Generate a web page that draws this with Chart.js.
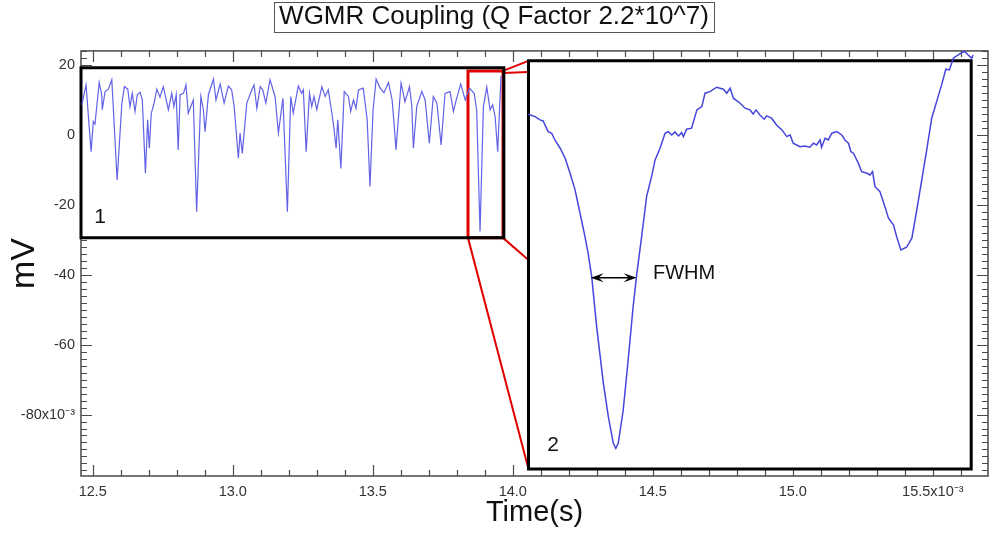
<!DOCTYPE html>
<html><head><meta charset="utf-8">
<script src="https://cdn.jsdelivr.net/npm/chart.js@4.4.1/dist/chart.umd.min.js"></script>
<style>html,body{margin:0;padding:0;background:#fff}canvas{display:block}</style>
</head><body>
<canvas id="c" width="989" height="535"></canvas>
<script>
// ---------------- data ----------------
const titleText = 'WGMR Coupling (Q Factor 2.2*10^7)';
const xTickValues = [12.5, 13.0, 13.5, 14.0, 14.5, 15.0, 15.5];
const xTickLabels = ['12.5', '13.0', '13.5', '14.0', '14.5', '15.0', '15.5x10\u207B\u00B3'];
const yTickValues = [20, 0, -20, -40, -60, -80];
const yTickLabels = ['20', '0', '-20', '-40', '-60', '-80x10\u207B\u00B3'];
const timeRange = [12.458, 15.697];   // ms (main axes)
const mvRange = [-97.6, 24.15];       // mV (main axes)
const X_MINOR = 0.1, Y_MINOR = 2;

// inset 1 : full trace (ms, mV)
const trace1Time = [12.461, 12.476, 12.494, 12.502, 12.508, 12.523, 12.532, 12.534, 12.544, 12.556,
  12.568, 12.587, 12.604, 12.613, 12.625, 12.633, 12.641, 12.651, 12.659, 12.669,
  12.677, 12.688, 12.696, 12.702, 12.709, 12.719, 12.729, 12.740, 12.752, 12.770,
  12.782, 12.790, 12.798, 12.805, 12.812, 12.824, 12.833, 12.841, 12.859, 12.871,
  12.886, 12.895, 12.901, 12.913, 12.931, 12.940, 12.955, 12.969, 12.984, 12.996,
  13.005, 13.020, 13.026, 13.034, 13.050, 13.068, 13.076, 13.086, 13.098, 13.107,
  13.118, 13.133, 13.151, 13.163, 13.179, 13.195, 13.207, 13.216, 13.234, 13.246,
  13.252, 13.262, 13.274, 13.282, 13.290, 13.300, 13.318, 13.330, 13.341, 13.354,
  13.362, 13.369, 13.375, 13.386, 13.398, 13.413, 13.421, 13.431, 13.440, 13.449,
  13.466, 13.480, 13.490, 13.501, 13.512, 13.526, 13.540, 13.556, 13.569, 13.576,
  13.583, 13.601, 13.615, 13.631, 13.639, 13.645, 13.657, 13.675, 13.687, 13.702,
  13.716, 13.729, 13.744, 13.758, 13.776, 13.788, 13.798, 13.814, 13.830, 13.845,
  13.862, 13.871, 13.883, 13.895, 13.907, 13.919, 13.928, 13.937, 13.946, 13.958];
const trace1Mv = [8.7, 14.4, -4.7, 3.9, 3.2, 15.1, 11.6, 7.3, 12.5, 13.2,
  15.9, -12.8, 9.2, 13.9, 13.2, 8.2, 12.0, 6.8, 11.6, 12.3,
  10.1, -10.9, 4.4, -3.7, 6.3, 9.2, 13.2, 10.9, 13.9, 7.3,
  12.0, 8.2, 11.6, -4.2, 11.6, 12.0, 14.4, 6.3, 10.1, -21.9,
  11.1, 7.3, 1.0, 11.6, 16.1, 10.1, 14.7, 9.2, 14.1, 13.0,
  8.2, -6.6, 0.6, -5.2, 9.2, 13.0, 14.4, 7.7, 13.9, 13.0,
  9.2, 15.9, 11.1, 0.6, 10.6, -21.9, 11.1, 6.3, 14.1, 12.0,
  13.0, -4.7, 12.0, 8.2, 11.1, 7.3, 13.9, 11.1, 13.0, 6.3,
  1.5, -3.7, 4.4, -9.5, 12.5, 11.1, 6.8, 10.1, 7.7, 13.0,
  13.5, 4.4, -14.7, 7.3, 16.1, 13.5, 12.2, 15.1, 10.1, 3.4,
  -4.2, 14.9, 9.6, 13.9, 8.7, -3.7, 8.2, 12.5, 10.1, -2.3,
  11.1, 9.2, -2.8, 12.0, 12.5, 6.8, 10.1, 14.7, 10.1, 13.5,
  12.0, 7.3, -27.6, 8.2, 13.8, 7.3, 8.7, 5.3, -4.7, 17.0];

// inset 2 : zoomed trace (ms, mV)
const trace2Time = [13.8400, 13.8419, 13.8433, 13.8442, 13.8447, 13.8456, 13.8466, 13.8475, 13.8490, 13.8504,
  13.8518, 13.8532, 13.8546, 13.8560, 13.8569, 13.8579, 13.8593, 13.8612, 13.8626, 13.8640,
  13.8647, 13.8654, 13.8668, 13.8682, 13.8696, 13.8706, 13.8720, 13.8734, 13.8748, 13.8758,
  13.8772, 13.8786, 13.8795, 13.8805, 13.8814, 13.8824, 13.8833, 13.8838, 13.8847, 13.8861,
  13.8876, 13.8890, 13.8899, 13.8913, 13.8932, 13.8951, 13.8960, 13.8970, 13.8979, 13.8998,
  13.9012, 13.9026, 13.9035, 13.9043, 13.9054, 13.9066, 13.9073, 13.9087, 13.9101, 13.9116,
  13.9130, 13.9139, 13.9148, 13.9167, 13.9181, 13.9195, 13.9205, 13.9214, 13.9224, 13.9228,
  13.9238, 13.9247, 13.9257, 13.9271, 13.9285, 13.9294, 13.9304, 13.9311, 13.9318, 13.9332,
  13.9341, 13.9356, 13.9365, 13.9372, 13.9379, 13.9393, 13.9407, 13.9417, 13.9431, 13.9440,
  13.9452, 13.9468, 13.9483, 13.9497, 13.9511, 13.9525, 13.9539, 13.9553, 13.9567, 13.9579,
  13.9589, 13.9600, 13.9614, 13.9624, 13.9633, 13.9642, 13.9652, 13.9656];
const trace2Mv = [12.16, 11.87, 11.49, 11.37, 10.90, 10.12, 9.93, 9.14, 8.17, 7.00,
  5.24, 3.29, 0.56, -2.18, -4.13, -6.87, -12.73, -19.36, -23.27, -26.39,
  -26.98, -26.39, -22.49, -16.63, -10.39, -6.67, -2.18, 2.50, 4.84, 6.80,
  8.17, 9.93, 10.12, 9.73, 10.08, 9.61, 10.00, 9.53, 10.40, 10.52,
  12.66, 13.05, 14.62, 14.80, 15.32, 15.08, 14.62, 15.20, 14.03, 13.44,
  12.86, 12.66, 12.19, 12.66, 12.07, 11.57, 11.96, 11.69, 10.90, 10.32,
  9.53, 9.73, 8.76, 8.36, 8.44, 8.29, 8.76, 8.56, 9.14, 8.29,
  9.34, 9.14, 9.93, 10.12, 9.73, 9.14, 8.76, 7.77, 7.59, 6.41,
  5.43, 5.24, 5.04, 5.43, 3.67, 3.09, 1.33, -0.03, -0.81, -2.18,
  -3.74, -3.43, -2.37, 0.94, 4.46, 7.97, 11.69, 13.63, 15.59, 17.43,
  17.35, 18.72, 19.10, 19.37, 19.49, 19.10, 18.72, 19.10];

// frames [t0, t1, v0, v1] in main-axis units
const inset1Frame = [12.458, 13.968, -29.4, 19.3];
const inset2Frame = [14.056, 15.637, -95.6, 21.3];
const zoomFrame = [13.84, 13.965, -29.4, 18.4];
// red connector segments [t0, v0, t1, v1]
const connectors = [[13.965, 18.42, 14.056, 21.3], [13.965, 17.85, 14.056, 18.14],
  [13.84, -29.4, 14.056, -95.6], [13.965, -29.4, 14.056, -35.73]];
// inset 2 axis ranges (zoom of zoomFrame)
const zoomTimeRange = [13.7137, 13.9698];
const zoomMvRange = [-30.22, 19.572];
// annotations
const fwhmTime = [13.8576, 13.8706], fwhmMv = -7.0;
const fwhmLabelPos = [13.8752, -6.5];      // zoom units
const label1Pos = [12.526, -23.55];        // main units
const label2Pos = [13.8470, -26.59];       // zoom units

// ---------------- chart ----------------
const FONT = "'Liberation Sans', Arial, Helvetica, sans-serif";
const TITLE_SIZE = 26;
const pts = (xs, ys) => xs.map((t, i) => ({x: t, y: ys[i]}));
function frameDs(f, color, w) {
  return {data: [{x: f[0], y: f[2]}, {x: f[0], y: f[3]}, {x: f[1], y: f[3]}, {x: f[1], y: f[2]}, {x: f[0], y: f[2]}],
    borderColor: color, borderWidth: w, pointRadius: 0, clip: false, order: 1,
    borderCapStyle: 'square', borderJoinStyle: 'miter', xAxisID: 'x', yAxisID: 'y'};
}
function segDs(s, color, w) {
  return {data: [{x: s[0], y: s[1]}, {x: s[2], y: s[3]}], borderColor: color, borderWidth: w,
    pointRadius: 0, clip: false, order: 2, xAxisID: 'x', yAxisID: 'y'};
}

const deco = {
  id: 'deco',
  beforeDatasetsDraw(chart) {
    const {ctx, chartArea: a, scales: {x, y}} = chart;
    ctx.save();
    ctx.strokeStyle = '#4a4a4a';
    ctx.lineWidth = 1.5;
    ctx.strokeRect(a.left, a.top, a.right - a.left, a.bottom - a.top);
    ctx.lineWidth = 1.2;
    ctx.beginPath();
    const n0 = Math.ceil(x.min / X_MINOR - 1e-6), n1 = Math.floor(x.max / X_MINOR + 1e-6);
    for (let n = n0; n <= n1; n++) {
      const L = (n % 5 === 0) ? 11 : 6;
      const p = Math.round(x.getPixelForValue(n * X_MINOR)) + 0.5;
      ctx.moveTo(p, a.bottom); ctx.lineTo(p, a.bottom - L);
      ctx.moveTo(p, a.top); ctx.lineTo(p, a.top + L);
    }
    const m0 = Math.ceil(y.min / Y_MINOR - 1e-6), m1 = Math.floor(y.max / Y_MINOR + 1e-6);
    for (let n = m0; n <= m1; n++) {
      const L = (n % 10 === 0) ? 11 : 6;
      const p = Math.round(y.getPixelForValue(n * Y_MINOR)) + 0.5;
      ctx.moveTo(a.left, p); ctx.lineTo(a.left + L, p);
      ctx.moveTo(a.right, p); ctx.lineTo(a.right - L, p);
    }
    ctx.stroke();
    ctx.fillStyle = '#fff';
    for (const f of [inset1Frame, inset2Frame]) {
      const l = x.getPixelForValue(f[0]), r = x.getPixelForValue(f[1]);
      const t = y.getPixelForValue(f[3]), b = y.getPixelForValue(f[2]);
      ctx.fillRect(l, t, r - l, b - t);
    }
    ctx.restore();
  },
  afterDatasetsDraw(chart) {
    const {ctx, scales: {x, y, x2, y2}} = chart;
    ctx.save();
    ctx.fillStyle = '#111';
    ctx.textBaseline = 'middle';
    ctx.textAlign = 'center';
    ctx.font = '21px ' + FONT;
    ctx.fillText('1', x.getPixelForValue(label1Pos[0]), y.getPixelForValue(label1Pos[1]));
    ctx.fillText('2', x2.getPixelForValue(label2Pos[0]), y2.getPixelForValue(label2Pos[1]));
    ctx.textAlign = 'left';
    ctx.font = '20px ' + FONT;
    ctx.fillText('FWHM', x2.getPixelForValue(fwhmLabelPos[0]), y2.getPixelForValue(fwhmLabelPos[1]));
    // FWHM double arrow
    const py = y2.getPixelForValue(fwhmMv);
    const xa = x2.getPixelForValue(fwhmTime[0]), xb = x2.getPixelForValue(fwhmTime[1]);
    ctx.strokeStyle = '#000'; ctx.fillStyle = '#000'; ctx.lineWidth = 1.3;
    ctx.beginPath(); ctx.moveTo(xa + 6, py); ctx.lineTo(xb - 6, py); ctx.stroke();
    const head = (xt, dir) => {
      ctx.beginPath(); ctx.moveTo(xt, py);
      ctx.lineTo(xt - dir * 13, py - 4.5); ctx.lineTo(xt - dir * 8, py);
      ctx.lineTo(xt - dir * 13, py + 4.5); ctx.closePath(); ctx.fill();
    };
    head(xa, -1); head(xb, 1);
    ctx.restore();
  },
  afterDraw(chart) {
    const {ctx} = chart;
    const tb = chart.titleBlock;
    ctx.save();
    ctx.font = TITLE_SIZE + 'px ' + FONT;
    const w = ctx.measureText(titleText).width;
    const cx = tb ? (tb.left + tb.right) / 2 : chart.width / 2;
    ctx.strokeStyle = '#555'; ctx.lineWidth = 1;
    ctx.strokeRect(Math.round(cx - w / 2 - 5) + 0.5, 2.5, Math.round(w + 10), 30);
    ctx.restore();
  }
};

new Chart(document.getElementById('c'), {
  type: 'line',
  data: {datasets: [
    {data: pts(trace1Time, trace1Mv), xAxisID: 'x', yAxisID: 'y', borderColor: '#6262e8', borderWidth: 1.2, pointRadius: 0, order: 0},
    {data: pts(trace2Time, trace2Mv), xAxisID: 'x2', yAxisID: 'y2', borderColor: '#4545dc', borderWidth: 1.5, pointRadius: 0, order: 0, clip: false},
    frameDs(inset1Frame, '#000', 3),
    frameDs(inset2Frame, '#000', 3),
    frameDs(zoomFrame, '#e00000', 3),
    ...connectors.map(s => segDs(s, '#e00000', 2))
  ]},
  options: {
    responsive: false, animation: false, devicePixelRatio: 1,
    layout: {padding: {left: 0, right: 1, top: 0, bottom: 0}},
    plugins: {
      legend: {display: false}, tooltip: {enabled: false},
      title: {display: true, text: titleText, color: '#111',
        font: {family: FONT, size: TITLE_SIZE, weight: 'normal', lineHeight: 1.15}, padding: {top: 2, bottom: 19}}
    },
    scales: {
      x: {type: 'linear', position: 'bottom', min: timeRange[0], max: timeRange[1],
        afterBuildTicks: s => { s.ticks = xTickValues.map(v => ({value: v})); },
        afterFit: s => { s.height = 59; },
        ticks: {callback: (v, i) => xTickLabels[i], font: {family: FONT, size: 14.5}, color: '#333',
          padding: 7, maxRotation: 0, autoSkip: false},
        grid: {display: false, drawTicks: false}, border: {display: false},
        title: {display: true, text: 'Time(s)', color: '#111', font: {family: FONT, size: 29, lineHeight: 1.2},
          padding: {top: 0, bottom: 5}}},
      y: {type: 'linear', position: 'left', min: mvRange[0], max: mvRange[1],
        afterBuildTicks: s => { s.ticks = yTickValues.map(v => ({value: v})); },
        afterFit: s => { s.width = 81; },
        ticks: {callback: (v, i) => yTickLabels[i], font: {family: FONT, size: 14.5}, color: '#333',
          padding: 6, autoSkip: false},
        grid: {display: false, drawTicks: false}, border: {display: false},
        title: {display: true, text: 'mV', color: '#111', font: {family: FONT, size: 34, lineHeight: 1.2},
          padding: {top: 4, bottom: 0}}},
      x2: {type: 'linear', axis: 'x', position: 'top', display: false, min: zoomTimeRange[0], max: zoomTimeRange[1]},
      y2: {type: 'linear', axis: 'y', position: 'right', display: false, min: zoomMvRange[0], max: zoomMvRange[1]}
    }
  },
  plugins: [deco]
});
</script>
</body></html>
